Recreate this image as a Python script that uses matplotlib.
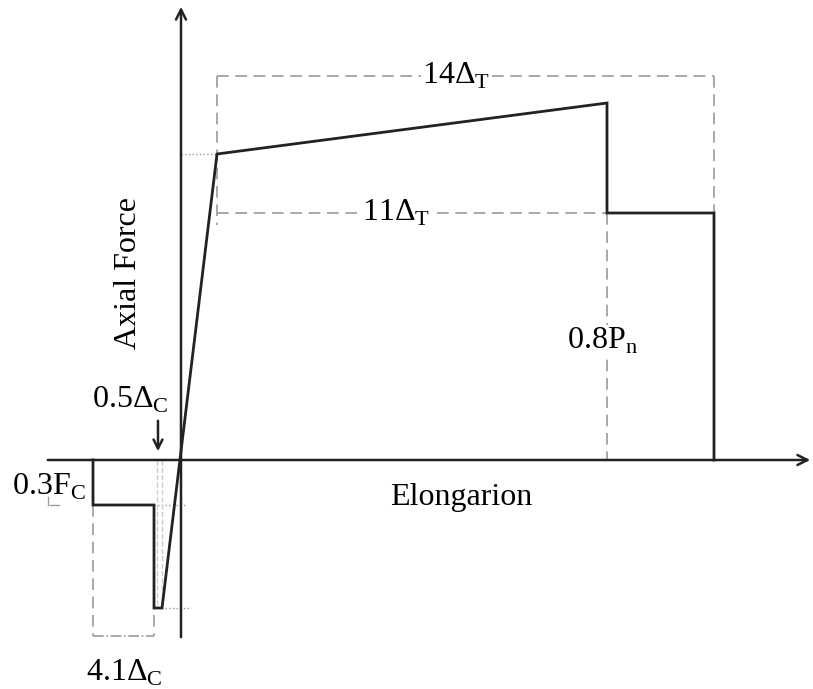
import matplotlib.pyplot as plt

plt.rcParams['font.family'] = ['Liberation Serif', 'DejaVu Serif']
plt.rcParams['mathtext.fontset'] = 'custom'
plt.rcParams['mathtext.rm'] = 'Liberation Serif'

# backbone curve: elongation vs axial force (schematic units)
elong = [-88, -88, -27, -27, -19, 36, 426, 426, 533, 533]
force = [0, -45, -45, -148, -148, 306, 357, 247, 247, 0]

# key points
x_yield, f_yield = 36, 306
x_peak, f_peak = 426, 357
x_end, f_res = 533, 247
f_top = 384
x_c1, x_c2, f_c1, f_c2 = -88, -27, -45, -148
y_low = -176

fig = plt.figure(figsize=(8.13, 6.89), dpi=100)
ax = fig.add_axes([0, 0, 1, 1])
ax.set_xlim(-181, 632)
ax.set_ylim(-229, 460)
ax.axis('off')

ink = '#222222'
grey = '#9a9a9a'

# axes with arrows
ax.annotate('', xy=(632, 0), xytext=(-136, 0),
            arrowprops=dict(arrowstyle='->', color=ink, lw=1.8, mutation_scale=18))
ax.annotate('', xy=(0, 456), xytext=(0, -180),
            arrowprops=dict(arrowstyle='->', color=ink, lw=1.8, mutation_scale=18))

# guide lines
dash = dict(color=grey, lw=1.2, ls=(0, (7, 4)))
ax.plot([x_yield, x_end], [f_top, f_top], **dash)
ax.plot([x_yield, x_yield], [f_top, 235], **dash)
ax.plot([x_end, x_end], [f_top, f_res], **dash)
ax.plot([x_yield, x_peak], [f_res, f_res], **dash)
ax.plot([x_peak, x_peak], [f_res, 0], **dash)
ax.plot([0, x_yield], [f_yield, f_yield], color=grey, lw=1.0, ls=':')
ax.plot([x_c2, 10], [f_c2, f_c2], color=grey, lw=1.0, ls=':')
ax.plot([x_c2, 5], [f_c1, f_c1], color=grey, lw=1.0, ls=':')
ax.plot([x_c1, x_c1], [f_c1, y_low], **dash)
ax.plot([x_c2, x_c2], [f_c1, y_low], **dash)
ax.plot([x_c1, x_c2], [y_low, y_low], color=grey, lw=1.2, ls='-.')
ax.plot([-24, -24], [0, f_c2], color='#cccccc', lw=1.0, ls='--')
ax.plot([-19, -19], [0, f_c2], color='#cccccc', lw=1.0, ls='--')
ax.plot([-133, -133], [-37, -45], color=grey, lw=1.0)
ax.plot([-131, -122], [-45, -45], color=grey, lw=1.0)

# backbone
ax.plot(elong, force, color=ink, lw=2.0, solid_joinstyle='miter')

fs = 23
box = dict(fc='white', ec='none', pad=1)
ax.text(275, f_top, r'14$\Delta_{\mathrm{T}}$', fontsize=fs, ha='center', va='center', bbox=box)
ax.text(215, f_res, r'11$\Delta_{\mathrm{T}}$', fontsize=fs, ha='center', va='center', bbox=box)
ax.text(421, 119, r'0.8P$_{\mathrm{n}}$', fontsize=fs, ha='center', va='center', bbox=box)
ax.text(280, -37, 'Elongarion', fontsize=fs, ha='center', va='center')
ax.text(-52, 187, 'Axial Force', fontsize=fs, ha='center', va='center', rotation=90)
ax.text(-169, -27, r'0.3F$_{\mathrm{C}}$', fontsize=fs, ha='left', va='center')
ax.text(-89, 60, r'0.5$\Delta_{\mathrm{C}}$', fontsize=fs, ha='left', va='center')
ax.text(-95, -213, r'4.1$\Delta_{\mathrm{C}}$', fontsize=fs, ha='left', va='center')
ax.annotate('', xy=(-23, 6), xytext=(-23, 42),
            arrowprops=dict(arrowstyle='->', color=ink, lw=1.8, mutation_scale=16))

fig.savefig('out.png', dpi=100, facecolor='white')
